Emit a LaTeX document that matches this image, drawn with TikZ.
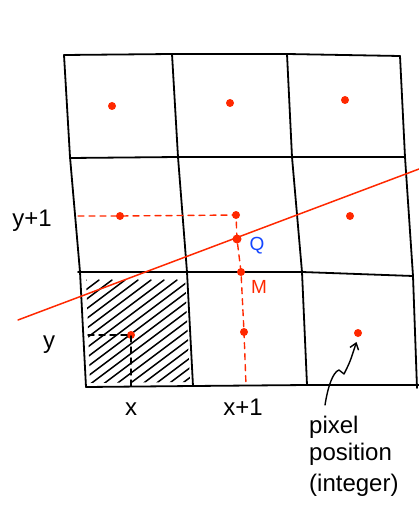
\documentclass[tikz,border=0pt]{standalone}
\usepackage{fontspec}
\setmainfont{Liberation Sans}
\usetikzlibrary{arrows.meta}
\definecolor{penred}{RGB}{255,40,0}
\definecolor{penblue}{RGB}{20,70,255}
\begin{document}
\begin{tikzpicture}[x=1pt,y=-1pt,line cap=round,line join=round,
  dot/.style={circle,fill=penred,inner sep=0pt,minimum size=8pt},
  grid/.style={line width=1.8pt},
  guide/.style={penred,line width=1.4pt,dash pattern=on 6pt off 5pt},
  helper/.style={line width=1.4pt,dash pattern=on 6pt off 5pt},
  hand/.style={font=\fontsize{24}{27}\selectfont}]
\useasboundingbox (0,0) rectangle (419,508);

% the 3x3 pixel grid
\draw[grid] (64,55) -- (70,157) -- (80,272) -- (86,387);
\draw[grid] (172,54) -- (178,157) -- (187,272) -- (193,386);
\draw[grid] (287,54) -- (292,157) -- (302,272) -- (307,385);
\draw[grid] (400,56) -- (405,157) -- (413,276) -- (417,388);
\draw[grid] (64,55) -- (172,54) -- (287,54) -- (400,56);
\draw[grid] (70,158) -- (178,157) -- (292,157) -- (405,157);
\draw[grid] (78,272) -- (187,272) -- (302,272) -- (413,276);
\draw[grid] (86,387) -- (193,386) -- (307,385) -- (419,385);

% shaded pixel
\begin{scope}
\clip (86,277) -- (185,276) -- (190,382) -- (90,383) -- cycle;
\foreach \a in {-100,-87,...,200}
  \draw[line width=1.5pt] (\a,400) -- ++(160,-120);
\end{scope}

% pixel centres
\node[dot] (c1r1) at (112,106) {};
\node[dot] (c2r1) at (230,103) {};
\node[dot] (c3r1) at (345,100) {};
\node[dot] (c1r2) at (120,216) {};
\node[dot] (c2r2) at (236,215) {};
\node[dot] (c3r2) at (350,216) {};
\node[dot] (c1r3) at (131,335) {};
\node[dot] (c2r3) at (244,332) {};
\node[dot] (c3r3) at (358,333) {};
\node[dot,minimum size=9pt] (q) at (237,239) {};
\node[dot] (m) at (241,272) {};

% the line
\coordinate (lineA) at (18,320);
\coordinate (lineB) at (419,169);
\draw[penred,line width=1.5pt] (lineA) -- (lineB);

% guides
\coordinate (gl) at (78,216);
\coordinate (gb) at (246,385);
\draw[guide] (gl) -- (c1r2.center) -- (c2r2.center) -- (q.center) -- (m.center) -- (c2r3.center) -- (gb);
\coordinate (hx) at (88,335);
\coordinate (hy) at (131,386);
\draw[helper] (hx) -- (c1r3.center) -- (hy);

% labels
\node[hand] (ylab1) at (32,221) {y+1};
\node[hand] (ylab) at (49,345) {y};
\node[hand] (xlab) at (131,409) {x};
\node[hand] (xlab1) at (243,407) {x+1};
\node[hand,penblue,font=\fontsize{19}{22}\selectfont] (qlab) at (257,246) {Q};
\node[hand,penred,font=\fontsize{19}{22}\selectfont] (mlab) at (259,287) {M};
\node[hand,align=left,anchor=north west,inner sep=0pt] (note) at (309,416) {pixel\\position\\[4pt](integer)};

% pointer to the pixel position
\coordinate (tail) at (325,405);
\draw[line width=1.4pt,-{Straight Barb[length=6pt,width=9pt]},shorten >=5pt]
  (tail) .. controls (328,386) and (333,372) .. (339,370)
  -- (344,374) .. controls (350,362) .. (c3r3.south);
\end{tikzpicture}
\end{document}
